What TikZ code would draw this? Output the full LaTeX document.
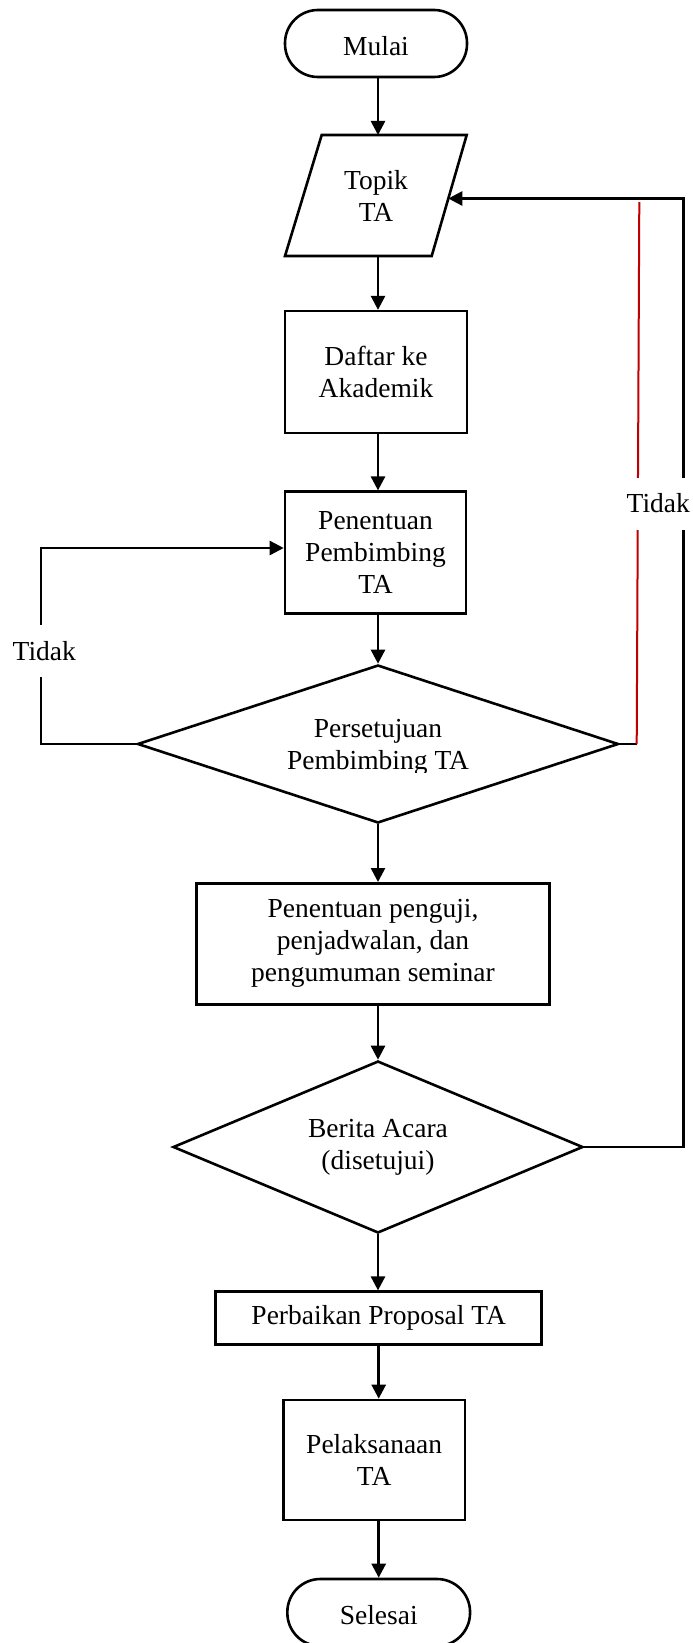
\documentclass[tikz,border=0pt]{standalone}
\usepackage{fontspec}
\setmainfont{Liberation Serif}
\usetikzlibrary{arrows.meta,shapes.geometric,calc}
\definecolor{redline}{RGB}{192,0,0}
\begin{document}
\begin{tikzpicture}[x=1pt,y=-1pt,
  every node/.style={font=\fontsize{27.5pt}{32pt}\selectfont, align=center, inner sep=0pt},
  ln/.style={line width=2.6pt, line join=miter},
  arr/.style={ln, -{Triangle[length=14pt,width=14pt]}},
  boxnode/.style={draw, ln, rectangle},
  term/.style={draw, ln, rounded corners=33pt, minimum width=182pt, minimum height=67pt, text height=23.5pt, text depth=0pt},
  decision/.style={draw, ln, diamond},
  lbl/.style={fill=white, inner xsep=2pt, minimum height=52pt}]
\useasboundingbox (0,0) rectangle (693,1643);
\fill[white] (0,0) rectangle (693,1643);

% nodes
\node[term] (mulai) at (376,43.5) {Mulai};

\node (topik) at (376,195.5) {Topik\\TA};
\draw[ln] (321.7,135) -- (466.7,135) -- (431.7,256) -- (285,256) -- cycle;
\coordinate (topikN) at (378,135);
\coordinate (topikS) at (378,256);
\coordinate (topikE) at (448.3,198.5);

\node[boxnode, minimum width=181.7pt, minimum height=121.7pt] (daftar) at (376,372) {Daftar ke\\Akademik};
\node[boxnode, minimum width=181pt, minimum height=121.6pt] (pemb) at (375.5,552.5) {Penentuan\\Pembimbing\\TA};

\node[decision, minimum width=481pt, minimum height=158pt] (setuju) at (378,744) {};
\begin{scope}
  \clip (100,650) rectangle (660,772);
  \node (setujuT) at (378,747.5) {Persetujuan\\Pembimbing TA};
\end{scope}

\node[boxnode, minimum width=352.6pt, minimum height=121pt] (penguji) at (373,943.8) {Penentuan penguji,\\penjadwalan, dan\\pengumuman seminar};

\node[decision, minimum width=410pt, minimum height=172pt, shape aspect=2.38] (berita) at (378,1147) {Berita Acara\\(disetujui)};

\node[boxnode, minimum width=326pt, minimum height=52.6pt] (perbaikan) at (378.7,1318) {Perbaikan Proposal TA};
\node[boxnode, minimum width=181.7pt, minimum height=120pt] (pelaks) at (374.2,1460) {Pelaksanaan\\TA};
\node[term, minimum width=182.7pt] (selesai) at (378.7,1612.5) {Selesai};

% main flow
\draw[arr] (mulai.south -| topikN) -- (topikN);
\draw[arr] (topikS) -- (topikS |- daftar.north);
\draw[arr] (daftar.south -| topikS) -- (topikS |- pemb.north);
\draw[arr] (pemb.south -| setuju.north) -- (setuju.north);
\draw[arr] (setuju.south) -- (setuju.south |- penguji.north);
\draw[arr] (penguji.south -| berita.north) -- (berita.north);
\draw[arr] (berita.south) -- (berita.south |- perbaikan.north);
\draw[arr] (perbaikan.south) -- (perbaikan.south |- pelaks.north);
\draw[arr] (pelaks.south -| selesai.north) -- (selesai.north);

% left loop
\coordinate (lc) at (41,548);
\draw[arr] (setuju.west) -- (setuju.west -| lc) -- (lc) -- (lc -| pemb.west);
\node[lbl] (tidak1) at (44.3,651) {Tidak};

% right loops
\coordinate (rc) at (683.3,198.5);
\draw[arr] (berita.east) -- (berita.east -| rc) -- (rc) -- (topikE);
\coordinate (redB) at (636.7,744);
\coordinate (redT) at (639.3,202);
\draw[ln] (setuju.east) -- (redB);
\draw[redline, line width=2pt] (redB) -- (redT);
\node[lbl] (tidak2) at (658.3,503.5) {Tidak};
\end{tikzpicture}
\end{document}
